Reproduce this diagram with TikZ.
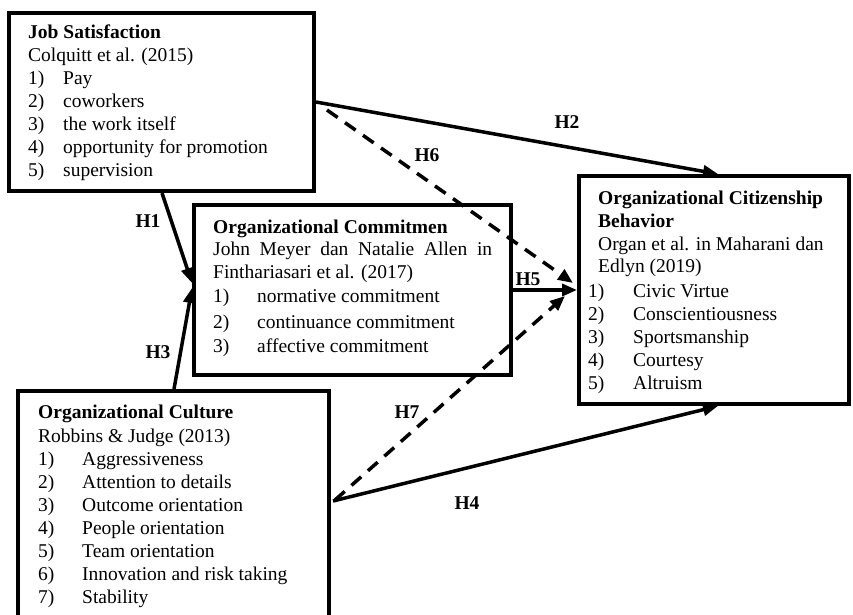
\documentclass[tikz,border=0pt]{standalone}
\usepackage{fontspec}
\setmainfont{Liberation Serif}
\usetikzlibrary{arrows.meta}
\newcommand{\fsz}{\fontsize{19.5}{23}\selectfont}
\begin{document}
\begin{tikzpicture}[x=1pt,y=-1pt,
  box/.style={draw, line width=4pt, inner sep=0pt, minimum width=#1},
  tx/.style={anchor=base west, inner sep=0pt, font=\fsz},
  lab/.style={inner sep=0pt, font=\fsz\bfseries},
  arr/.style={line width=3.5pt, -{Triangle[length=15pt,width=12pt]}},
  darr/.style={arr, dash pattern=on 13pt off 9pt}]
\clip (0,0) rectangle (853,614);
\fill[white] (0,0) rectangle (853,614);
% boxes
\node[box=305pt, minimum height=178pt] (js) at (161.5,102) {};
\node[box=317pt, minimum height=170pt] (oc) at (352.5,290) {};
\node[box=270pt, minimum height=228pt] (ocb) at (714,290) {};
\node[box=311pt, minimum height=249pt] (cul) at (173.5,515.5) {};
% Job Satisfaction
\node[tx] (jst) at (28,38) {\textbf{Job Satisfaction}};
\node[tx] (jsa) at (28,61) {Colquitt et al. (2015)};
\foreach \t [count=\i] in {Pay, coworkers, the work itself, opportunity for promotion, supervision}
  \node[tx] (js\i) at (28,{61+23*\i}) {\makebox[35pt][l]{\i)}\t};
% Organizational Commitment
\node[tx] (oct) at (213,233) {\textbf{Organizational Commitmen}};
\node[tx] (oca) at (213,255) {\makebox[279pt][s]{John Meyer dan Natalie Allen in}};
\node[tx] (ocb2) at (213,278) {Finthariasari et al. (2017)};
\node[tx] (oc1) at (213,302) {\makebox[44pt][l]{1)}normative commitment};
\node[tx] (oc2) at (213,328) {\makebox[44pt][l]{2)}continuance commitment};
\node[tx] (oc3) at (213,352) {\makebox[44pt][l]{3)}affective commitment};
% OCB
\node[tx] (ocbt) at (598,204) {\textbf{Organizational Citizenship}};
\node[tx] (ocbu) at (598,227) {\textbf{Behavior}};
\node[tx] (ocba) at (598,250) {Organ et al. in Maharani dan};
\node[tx] (ocbb) at (598,272) {Edlyn (2019)};
\foreach \t [count=\i] in {Civic Virtue, Conscientiousness, Sportsmanship, Courtesy, Altruism}
  \node[tx] (ocb\i) at (588,{274+23*\i}) {\makebox[45pt][l]{\i)}\t};
% Organizational Culture
\node[tx] (cult) at (38,418) {\textbf{Organizational Culture}};
\node[tx] (cula) at (38,442) {Robbins \& Judge (2013)};
\foreach \t [count=\i] in {Aggressiveness, Attention to details, Outcome orientation, People orientation, Team orientation, Innovation and risk taking, Stability}
  \node[tx] (cul\i) at (38,{442+23*\i}) {\makebox[44pt][l]{\i)}\t};
% connectors
\draw[arr] ([xshift=155pt]js.south west) -- ([yshift=7pt]oc.west);
\draw[arr] ([xshift=158pt]cul.north west) -- ([yshift=2pt]oc.west);
\draw[arr] (js.east) -- ([xshift=4pt]ocb.north);
\draw[darr] ([xshift=11pt,yshift=-8pt]js.east) -- ([xshift=-4pt,yshift=7pt]ocb.west);
\draw[arr] (oc.east) -- (ocb.west);
\draw[darr] ([xshift=4pt,yshift=-111pt]cul.north east) -- ([xshift=-12pt,yshift=-6pt]ocb.west);
\draw[arr] ([xshift=2pt,yshift=-112pt]cul.north east) -- ([xshift=4pt]ocb.south);
% labels
\node[lab] (h1) at (148,221) {H1};
\node[lab] (h2) at (567,122) {H2};
\node[lab] (h3) at (158,352) {H3};
\node[lab] (h4) at (467,503) {H4};
\node[lab] (h5) at (528,279) {H5};
\node[lab] (h6) at (427,155) {H6};
\node[lab] (h7) at (407,412) {H7};
\end{tikzpicture}
\end{document}
